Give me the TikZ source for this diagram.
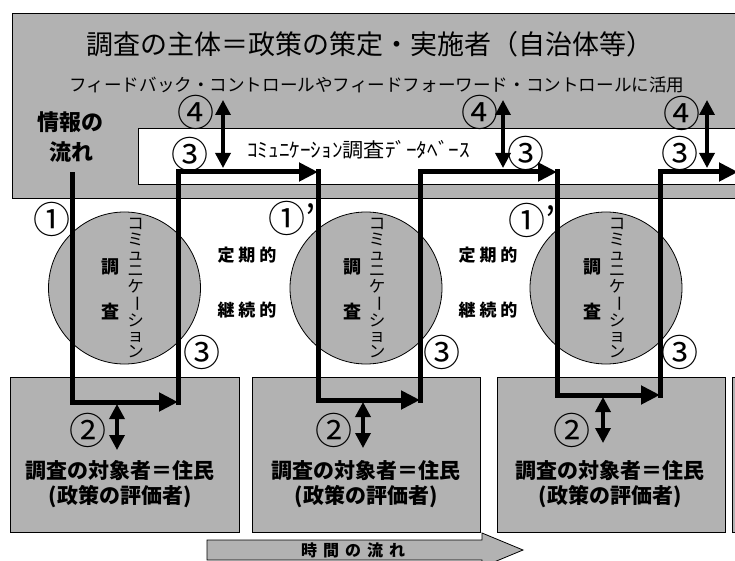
\documentclass[tikz,border=0pt]{standalone}
\usepackage{fontspec}
\usepackage{graphicx}
\setmainfont{Noto Sans CJK JP}
\usetikzlibrary{arrows.meta}
\newcommand\vkatatext{コ\\ミ\\ュ\\ニ\\ケ\\\rotatebox[origin=c]{-90}{ー}\\シ\\ョ\\ン}
\begin{document}
\begin{tikzpicture}[x=1pt,y=-1pt,
  shade/.style={fill=black!30},
  graybox/.style={draw=black,line width=0.8pt,shade},
  flow/.style={line width=5pt,line cap=rect},
  flowarrow/.style={line width=5pt,-{Triangle[length=19pt,width=18pt]}},
  dbl/.style={line width=3.4pt,{Triangle[length=15pt,width=15pt]}-{Triangle[length=15pt,width=15pt]}},
  num/.style={font=\fontsize{37}{37}\selectfont,inner sep=0pt},
  big/.style={font=\fontsize{27}{27}\selectfont,inner sep=0pt},
  sub/.style={font=\fontsize{17.6}{17.6}\selectfont,inner sep=0pt},
  bold/.style={font=\fontsize{21}{21}\selectfont\bfseries,inner sep=0pt},
  period/.style={font=\fontsize{17}{17}\selectfont\bfseries,inner sep=0pt},
  circtext/.style={font=\fontsize{18}{18}\selectfont\bfseries,inner sep=0pt},
  vtext/.style={font=\fontsize{16.5}{15.6}\selectfont,align=center,inner sep=0pt},
  survey/.style={circle,draw=black,line width=0.8pt,shade,minimum size=152pt,inner sep=0pt}
]
\clip (0,0) rectangle (735,561);
\fill[white] (0,0) rectangle (735,561);

% top box and database box
\draw[graybox] (12,13) rectangle (760,198);
\draw[draw=black,line width=0.8pt,fill=white] (138,128) rectangle (760,184);

\node[big] (title) at (370,44) {調査の主体＝政策の策定・実施者（自治体等）};
\node[sub] (subtitle) at (377,85) {フィードバック・コントロールやフィードフォーワード・コントロールに活用};
\node[font=\fontsize{22}{22}\selectfont\bfseries,inner sep=0pt] (info1) at (70,122) {情報の};
\node[font=\fontsize{22}{22}\selectfont\bfseries,inner sep=0pt] (info2) at (71,152) {流れ};
\node[font=\fontsize{20}{20}\selectfont,inner sep=0pt,anchor=west] (db) at (247,150) {\scalebox{1.06}[1]{ｺﾐｭﾆｹｰｼｮﾝ調査ﾃﾞｰﾀﾍﾞｰｽ}};

% bottom boxes
\draw[graybox] (10,377) rectangle (239,532);
\draw[graybox] (252,377) rectangle (480,532);
\draw[graybox] (497,377) rectangle (725,532);
\draw[graybox] (732,377) rectangle (760,532);

\foreach \i/\cx in {1/120,2/366,3/610}{
  \node[bold] (res\i) at (\cx,471) {調査の対象者＝住民};
  \node[bold] (eva\i) at (\cx,497) {(政策の評価者)};
}

% time arrow
\draw[graybox] (207,540) -- (482,540) -- (482,533) -- (523,550) -- (482,567) -- (482,560) -- (207,560) -- cycle;
\node[font=\fontsize{16}{16}\selectfont\bfseries,inner sep=0pt] (time) at (353,550) {時\hspace{6pt}間\hspace{6pt}の\hspace{6pt}流\hspace{6pt}れ};

% survey circles
\foreach \i/\cx in {1/124.5,2/366,3/606}{
  \node[survey] (c\i) at (\cx,288) {};
  \node[circtext] (cho\i) at (\cx-14,267) {調};
  \node[circtext] (sa\i) at (\cx-14,312) {査};
  \node[vtext] (comm\i) at (\cx+11,288) {\vkatatext};
}

% periodic labels
\node[period] (tk1) at (247,255) {定\hspace{4pt}期\hspace{4pt}的};
\node[period] (kz1) at (247,310) {継\hspace{4pt}続\hspace{4pt}的};
\node[period] (tk2) at (488,255) {定\hspace{4pt}期\hspace{4pt}的};
\node[period] (kz2) at (488,310) {継\hspace{4pt}続\hspace{4pt}的};

% number labels
\node[num] (n1) at (52,219) {①};
\node[num,anchor=west] (n1b) at (268,218) {①’};
\node[num,anchor=west] (n1c) at (508,220) {①’};
\node[num] (n4a) at (196,112) {④};
\node[num] (n4b) at (480,112) {④};
\node[num] (n4c) at (682,113) {④};
\node[num] (n3a) at (190,154) {③};
\node[num] (n3b) at (526,153) {③};
\node[num] (n3c) at (680,153) {③};
\node[num] (n3d) at (202,352) {③};
\node[num] (n3e) at (442,352) {③};
\node[num] (n3f) at (680,352) {③};
\node[num] (n2a) at (88,430) {②};
\node[num] (n2b) at (334,430) {②};
\node[num] (n2c) at (572,430) {②};

% flow path coordinates
\coordinate (p0) at (72,175);
\coordinate (p1) at (72,402);
\coordinate (p2) at (178,402);
\coordinate (p3) at (178,172);
\coordinate (p4) at (318,172);
\coordinate (p5) at (318,400);
\coordinate (p6) at (420,400);
\coordinate (p7) at (420,172);
\coordinate (p8) at (557,172);
\coordinate (p9) at (557,395);
\coordinate (p10) at (660,395);
\coordinate (p11) at (660,172);
\coordinate (p12) at (738,172);

\draw[flow] (p0) -- (p1);
\draw[flowarrow] (p1) -- (p2);
\draw[flow] (p2) -- (p3);
\draw[flowarrow] (p3) -- (p4);
\draw[flow] (p4) -- (p5);
\draw[flowarrow] (p5) -- (p6);
\draw[flow] (p6) -- (p7);
\draw[flowarrow] (p7) -- (p8);
\draw[flow] (p8) -- (p9);
\draw[flowarrow] (p9) -- (p10);
\draw[flow] (p10) -- (p11);
\draw[flowarrow] (p11) -- (p12);

% feedback double arrows
\coordinate (f1t) at (223,100); \coordinate (f1b) at (223,168);
\coordinate (f2t) at (503,100); \coordinate (f2b) at (503,168);
\coordinate (f3t) at (707,100); \coordinate (f3b) at (707,168);
\draw[dbl] (f1t) -- (f1b);
\draw[dbl] (f2t) -- (f2b);
\draw[dbl] (f3t) -- (f3b);

% resident double arrows
\coordinate (r1t) at (117,404); \coordinate (r1b) at (117,450);
\coordinate (r2t) at (363,402); \coordinate (r2b) at (363,448);
\coordinate (r3t) at (603,397); \coordinate (r3b) at (603,443);
\draw[dbl] (r1t) -- (r1b);
\draw[dbl] (r2t) -- (r2b);
\draw[dbl] (r3t) -- (r3b);
\end{tikzpicture}
\end{document}
